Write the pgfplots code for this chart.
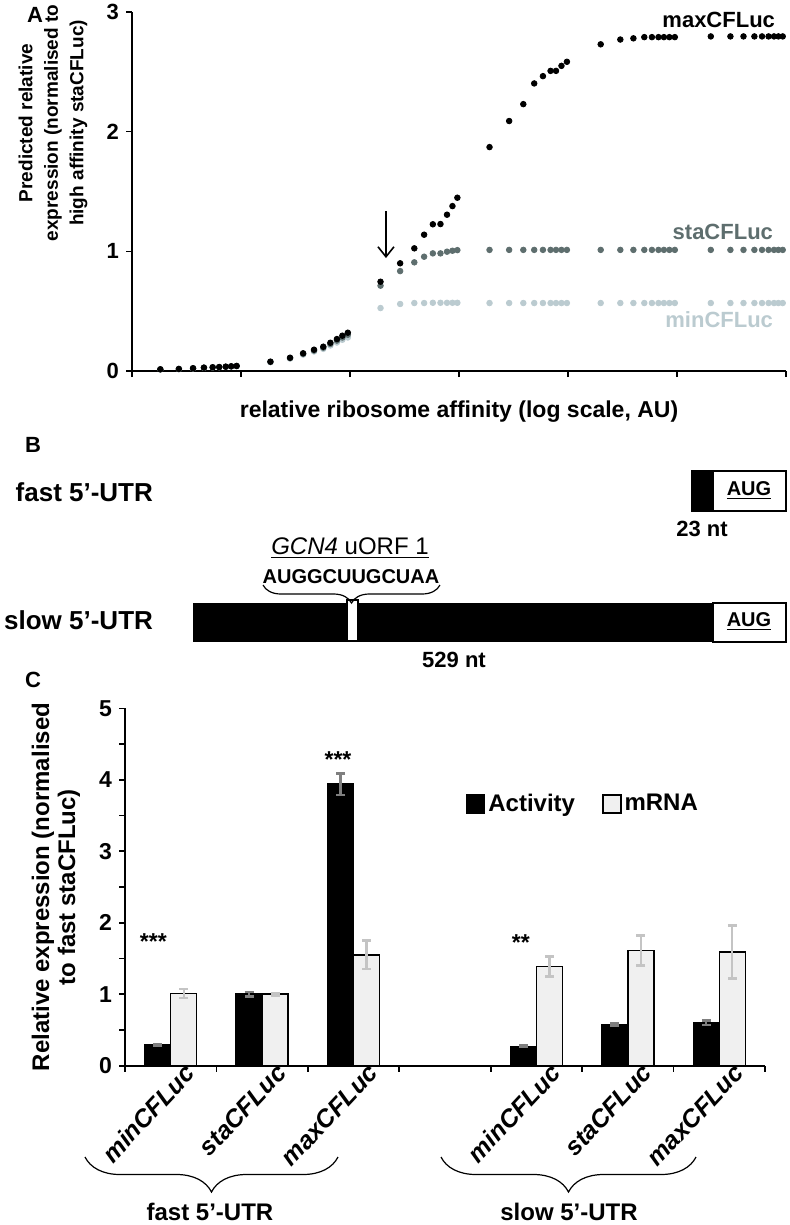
\documentclass[border=0pt]{standalone}
\usepackage{pgfplots}
\pgfplotsset{compat=1.18}
\usepackage{pgfplotstable}
\usepackage{fontspec}
\setmainfont{Liberation Sans}
\usetikzlibrary{arrows.meta,decorations.pathreplacing}
\definecolor{stac}{HTML}{5E6E6E}
\definecolor{minc}{HTML}{BBCBD0}
\definecolor{mrna}{HTML}{F0F0F0}
\definecolor{erra}{HTML}{7F7F7F}
\definecolor{errm}{HTML}{C4C4C4}
\newcommand{\fs}[1]{\fontsize{#1}{#1}\selectfont}

\pgfplotstableread{
x max sta min
0.26 0.014 0.014 0.013
0.43 0.017 0.017 0.016
0.56 0.023 0.023 0.022
0.66 0.028 0.028 0.027
0.74 0.031 0.031 0.030
0.80 0.033 0.033 0.032
0.86 0.036 0.036 0.035
0.91 0.039 0.039 0.038
0.96 0.042 0.042 0.041
1.27 0.078 0.076 0.074
1.45 0.111 0.108 0.104
1.57 0.148 0.143 0.137
1.67 0.178 0.171 0.163
1.755 0.203 0.195 0.185
1.82 0.236 0.226 0.213
1.88 0.267 0.254 0.238
1.93 0.295 0.280 0.261
1.98 0.320 0.303 0.280
2.28 0.746 0.713 0.526
2.46 0.900 0.835 0.560
2.59 1.025 0.908 0.568
2.68 1.139 0.955 0.568
2.76 1.226 0.983 0.570
2.83 1.228 0.983 0.570
2.89 1.306 0.997 0.570
2.94 1.378 1.005 0.570
2.985 1.448 1.010 0.570
3.28 1.871 1.012 0.568
3.46 2.089 1.012 0.568
3.59 2.230 1.012 0.568
3.69 2.403 1.012 0.568
3.77 2.464 1.012 0.568
3.84 2.508 1.012 0.568
3.89 2.508 1.012 0.568
3.94 2.550 1.012 0.568
3.99 2.584 1.012 0.568
4.30 2.730 1.012 0.568
4.48 2.770 1.012 0.568
4.60 2.780 1.012 0.568
4.70 2.790 1.012 0.568
4.77 2.790 1.012 0.568
4.83 2.790 1.012 0.568
4.88 2.790 1.012 0.568
4.93 2.790 1.012 0.568
4.98 2.790 1.012 0.568
5.31 2.796 1.012 0.568
5.49 2.796 1.012 0.568
5.61 2.796 1.012 0.568
5.71 2.796 1.012 0.568
5.78 2.796 1.012 0.568
5.84 2.796 1.012 0.568
5.89 2.796 1.012 0.568
5.93 2.796 1.012 0.568
5.97 2.796 1.012 0.568
}\dataA

\begin{document}
\begin{tikzpicture}
\path[use as bounding box] (0,0) rectangle (394.5pt,-612.5pt);

% ---------------- Panel A ----------------
\begin{axis}[
  at={(66pt,-185.5pt)}, anchor=south west,
  scale only axis, width=327pt, height=179.5pt,
  xmin=0, xmax=6, ymin=0, ymax=3,
  axis x line*=bottom, axis y line*=left,
  axis line style={line width=0.8pt,-},
  xtick={0,...,6}, xticklabels={},
  ytick={0,1,2,3},
  tick align=outside, major tick length=3pt,
  tick style={line width=0.8pt, black},
  tick label style={font=\bfseries\fs{11}},
  /pgf/number format/assume math mode=true,
  clip=false,
]
\addplot[only marks, mark=*, mark size=1.4pt, color=minc] table[x=x,y=min]{\dataA};
\addplot[only marks, mark=*, mark size=1.4pt, color=stac] table[x=x,y=sta]{\dataA};
\addplot[only marks, mark=*, mark size=1.4pt, color=black] table[x=x,y=max]{\dataA};
\draw[line width=0.8pt, -{Straight Barb[length=5pt,width=8pt]}] (axis cs:2.33,1.337) -- (axis cs:2.33,0.944);
\end{axis}

% ---------------- Panel C ----------------
\begin{axis}[
  at={(62.5pt,-532.85pt)}, anchor=south west,
  scale only axis, width=320pt, height=178.7pt,
  xmin=-0.5, xmax=6.5, ymin=0, ymax=5,
  axis x line*=bottom, axis y line*=left,
  axis line style={line width=0.8pt,-},
  ybar, bar width=13pt,
  xtick={-0.5,0.5,...,6.5}, xticklabels={},
  extra x ticks={0,1,2,4,5,6},
  extra x tick labels={minCFLuc,staCFLuc,maxCFLuc,minCFLuc,staCFLuc,maxCFLuc},
  extra x tick style={major tick length=0pt, tick label style={rotate=47, anchor=east, xshift=9pt, yshift=-8pt, font=\bfseries\itshape\fs{12.5}}},
  ytick={0,...,5}, minor y tick num=1,
  tick align=outside, major tick length=3pt, minor tick length=3pt,
  tick style={line width=0.8pt, black}, minor tick style={line width=0.8pt, black},
  y tick label style={font=\bfseries\fs{11.5}},
  /pgf/number format/assume math mode=true,
  legend image code/.code={\draw[#1,/tikz/.cd,line width=0.75pt] (0pt,-4.5pt) rectangle (9pt,4.5pt);},
  legend style={draw=none, fill=none, inner sep=0pt, at={(0.532,0.732)}, anchor=west,
    font=\bfseries\fs{12}, nodes={inner sep=1.5pt},
    /tikz/every even column/.append style={column sep=12pt}},
  legend columns=2,
  clip=false,
]
\addlegendimage{fill=black, draw=black}
\addlegendentry{Activity}
\addlegendimage{fill=mrna, draw=black}
\addlegendentry{mRNA}
\addplot[forget plot, fill=black, draw=black, line width=0.75pt, bar shift=-6.5pt,
  error bars/.cd, y dir=both, y explicit,
  error bar style={line width=1.2pt, erra},
  error mark options={rotate=90, erra, line width=1.2pt, mark size=2.2pt}]
  coordinates {(0,0.29) +- (0,0.015) (1,1.00) +- (0,0.03) (2,3.94) +- (0,0.15)
               (4,0.27) +- (0,0.012) (5,0.58) +- (0,0.02) (6,0.60) +- (0,0.03)};
\addplot[forget plot, fill=mrna, draw=black, line width=0.75pt, bar shift=6.5pt,
  error bars/.cd, y dir=both, y explicit,
  error bar style={line width=1.2pt, errm},
  error mark options={rotate=90, errm, line width=1.2pt, mark size=2.2pt}]
  coordinates {(0,1.01) +- (0,0.065) (1,1.00) +- (0,0.02) (2,1.55) +- (0,0.20)
               (4,1.39) +- (0,0.14) (5,1.61) +- (0,0.21) (6,1.59) +- (0,0.37)};
\node[font=\bfseries\fs{11.5}] at (axis cs:-0.19,1.73) {***};
\node[font=\bfseries\fs{11.5}] at (axis cs:1.83,4.28) {***};
\node[font=\bfseries\fs{11.5}] at (axis cs:3.83,1.72) {**};
\end{axis}

% ---------------- annotations in pixel units ----------------
\begin{scope}[x=0.5pt,y=-0.5pt]
% panel letters
\node[font=\bfseries\fs{11}] at (35,15) {A};
\node[font=\bfseries\fs{11}] at (33,445) {B};
\node[font=\bfseries\fs{11}] at (33,680) {C};
% panel A labels
\node[rotate=90, align=center, font=\bfseries\fontsize{9.5}{12.75}\selectfont] at (53,123)
  {Predicted relative\\expression (normalised to\\high affinity staCFLuc)};
\node[font=\bfseries\fs{11.5}] at (459,412) {relative ribosome affinity (log scale, AU)};
\node[anchor=east, font=\bfseries\fs{11}] at (782,20) {maxCFLuc};
\node[anchor=east, font=\bfseries\fs{11}, text=stac] at (780,232) {staCFLuc};
\node[anchor=east, font=\bfseries\fs{11}, text=minc] at (780,320) {minCFLuc};
% panel B
\node[anchor=east, font=\bfseries\fs{13}] at (160,492) {fast 5’-UTR};
\node[anchor=east, font=\bfseries\fs{13}] at (160,620) {slow 5’-UTR};
\fill[black] (692,471) rectangle (713,511);
\draw[line width=0.75pt] (692,471) rectangle (713,511);
\draw[line width=0.75pt, fill=white] (713,471) rectangle (786,511);
\node[font=\bfseries\fs{10}] at (749,491) {\underline{AUG}};
\node[font=\bfseries\fs{11}] at (702,529) {23 nt};
\fill[black] (193,603) rectangle (713,642);
\draw[line width=0.75pt, fill=white] (713,603) rectangle (786,642);
\node[font=\bfseries\fs{10}] at (749,622) {\underline{AUG}};
\draw[line width=0.6pt, fill=white] (347,600) rectangle (358,641);
\draw[decorate, decoration={brace, amplitude=9pt}, line width=0.6pt] (440,585) -- (263,585);
\node[font=\bfseries\fs{10}] at (351,577) {AUGGCUUGCUAA};
\node[font=\fs{12}] at (350,548) {\underline{\textit{GCN4} uORF 1}};
\node[font=\bfseries\fs{11}] at (454,660) {529 nt};
% panel C labels
\node[rotate=90, align=center, font=\bfseries\fontsize{12}{13}\selectfont] at (56,887)
  {Relative expression (normalised\\to fast staCFLuc)};
\draw[decorate, decoration={brace, amplitude=17.5pt}, line width=0.6pt] (338,1157) -- (85,1157);
\draw[decorate, decoration={brace, amplitude=17.5pt}, line width=0.6pt] (696,1157) -- (441,1157);
\node[font=\bfseries\fs{12}] at (210,1212) {fast 5’-UTR};
\node[font=\bfseries\fs{12}] at (569,1212) {slow 5’-UTR};
\end{scope}
\end{tikzpicture}
\end{document}
